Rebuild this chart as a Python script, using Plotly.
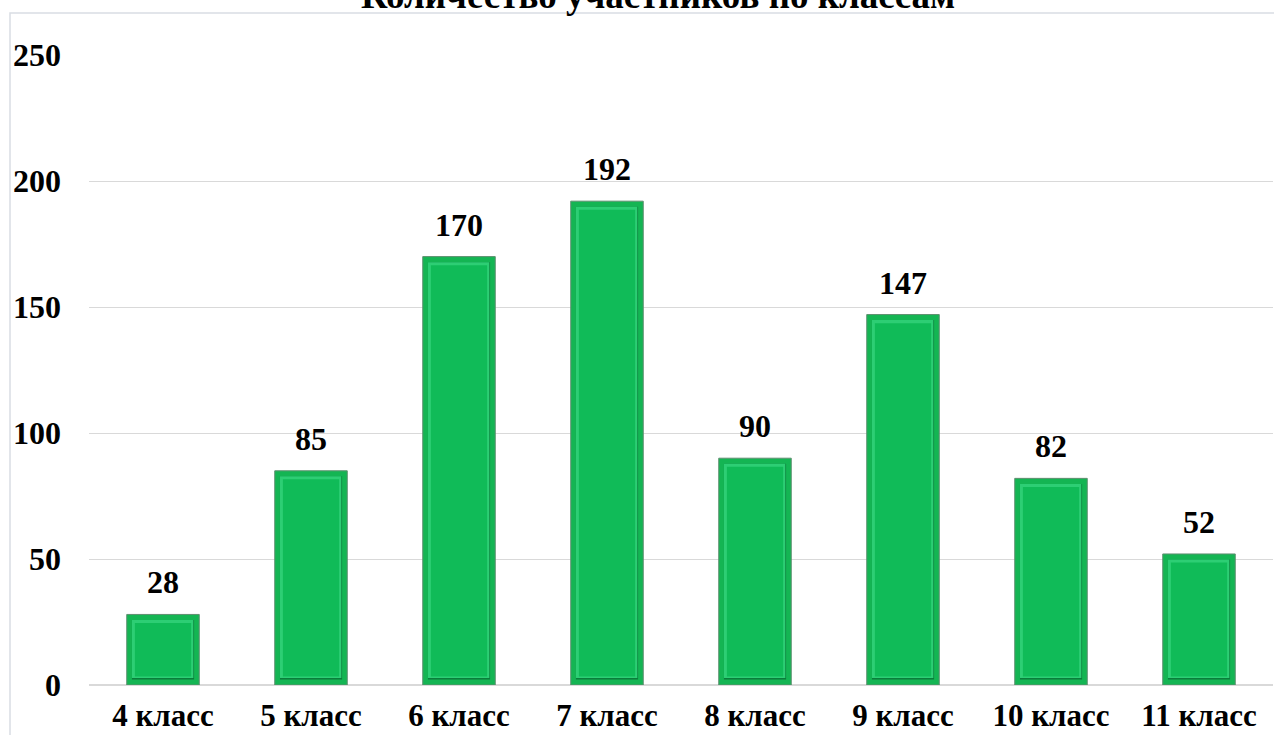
import plotly.graph_objects as go

categories = ["4 класс", "5 класс", "6 класс", "7 класс", "8 класс", "9 класс", "10 класс", "11 класс"]
participants = [28, 85, 170, 192, 90, 147, 82, 52]
y_ticks = [0, 50, 100, 150, 200, 250]
title_text = "Количество участников по классам"

W, H = 1274, 735
L, R, T, B = 89, 1, 55, 50
plot_h = H - T - B
FONT = "Liberation Serif, Times New Roman, serif"

def px_to_paper_y(py):
    return 1 + (T - py) / plot_h

def px_to_paper_x(px):
    return (px - L) / (W - L - R)

fig = go.Figure()
# outer frame
fig.add_trace(go.Bar(
    x=categories, y=participants, width=0.49,
    marker=dict(color="#14b553", line=dict(color="#5f8f70", width=1)),
    hoverinfo="skip", showlegend=False,
))
# bevel edge (dark)
edge_base = 2.2
fig.add_trace(go.Bar(
    x=categories, y=[v - 2 * edge_base for v in participants], base=edge_base, width=0.42,
    marker=dict(color="#0a7d3b", line=dict(width=0)),
    hoverinfo="skip", showlegend=False,
))
# bevel edge (light, top-left)
fig.add_trace(go.Bar(
    x=categories, y=[v - 2 * edge_base - 0.6 for v in participants], base=edge_base + 0.6,
    width=0.415, offset=-0.21,
    marker=dict(color="#2dce74", line=dict(width=0)),
    hoverinfo="skip", showlegend=False,
))
# inner face
inner_base = 3.4
fig.add_trace(go.Bar(
    x=categories, y=[v - 2 * inner_base for v in participants], base=inner_base, width=0.38,
    marker=dict(color="#10bb58", line=dict(width=0)),
    hoverinfo="skip", showlegend=False,
))

for c, v in zip(categories, participants):
    fig.add_annotation(x=c, y=v, text=f"<b>{v}</b>", showarrow=False,
                       yanchor="bottom", yshift=12,
                       font=dict(family=FONT, size=32, color="black"))

fig.add_annotation(xref="paper", yref="paper", x=px_to_paper_x(658), y=px_to_paper_y(-4),
                   text=f"<b>{title_text}</b>", showarrow=False, yanchor="middle", xanchor="center",
                   font=dict(family=FONT, size=37, color="black"))

# chart border (partially visible)
fig.add_shape(type="rect", xref="paper", yref="paper",
              x0=px_to_paper_x(10), x1=px_to_paper_x(1290),
              y0=px_to_paper_y(760), y1=px_to_paper_y(13),
              line=dict(color="#d9dde3", width=1.5), layer="below")

fig.update_layout(
    width=W, height=H,
    margin=dict(l=L, r=R, t=T, b=B, pad=0, autoexpand=False),
    paper_bgcolor="white", plot_bgcolor="white",
    barmode="overlay",
    xaxis=dict(showgrid=False, showline=False, ticks="", automargin=False,
               tickvals=categories, ticktext=[f"<b>{c}</b>" for c in categories],
               tickfont=dict(family=FONT, size=31, color="black"),
               ticklabelstandoff=9),
    yaxis=dict(range=[0, 250], tickvals=y_ticks, automargin=False,
               ticktext=[f"<b>{t}</b>" for t in y_ticks],
               showgrid=True, gridcolor="#d9d9d9", gridwidth=1,
               zeroline=True, zerolinecolor="#d9d9d9", zerolinewidth=1.5,
               showline=False, ticks="",
               tickfont=dict(family=FONT, size=32, color="black"),
               ticklabelstandoff=27),
)

fig.write_html("out.html", config={"displayModeBar": False},
               post_script="document.body.style.margin='0';document.body.style.overflow='hidden';")
